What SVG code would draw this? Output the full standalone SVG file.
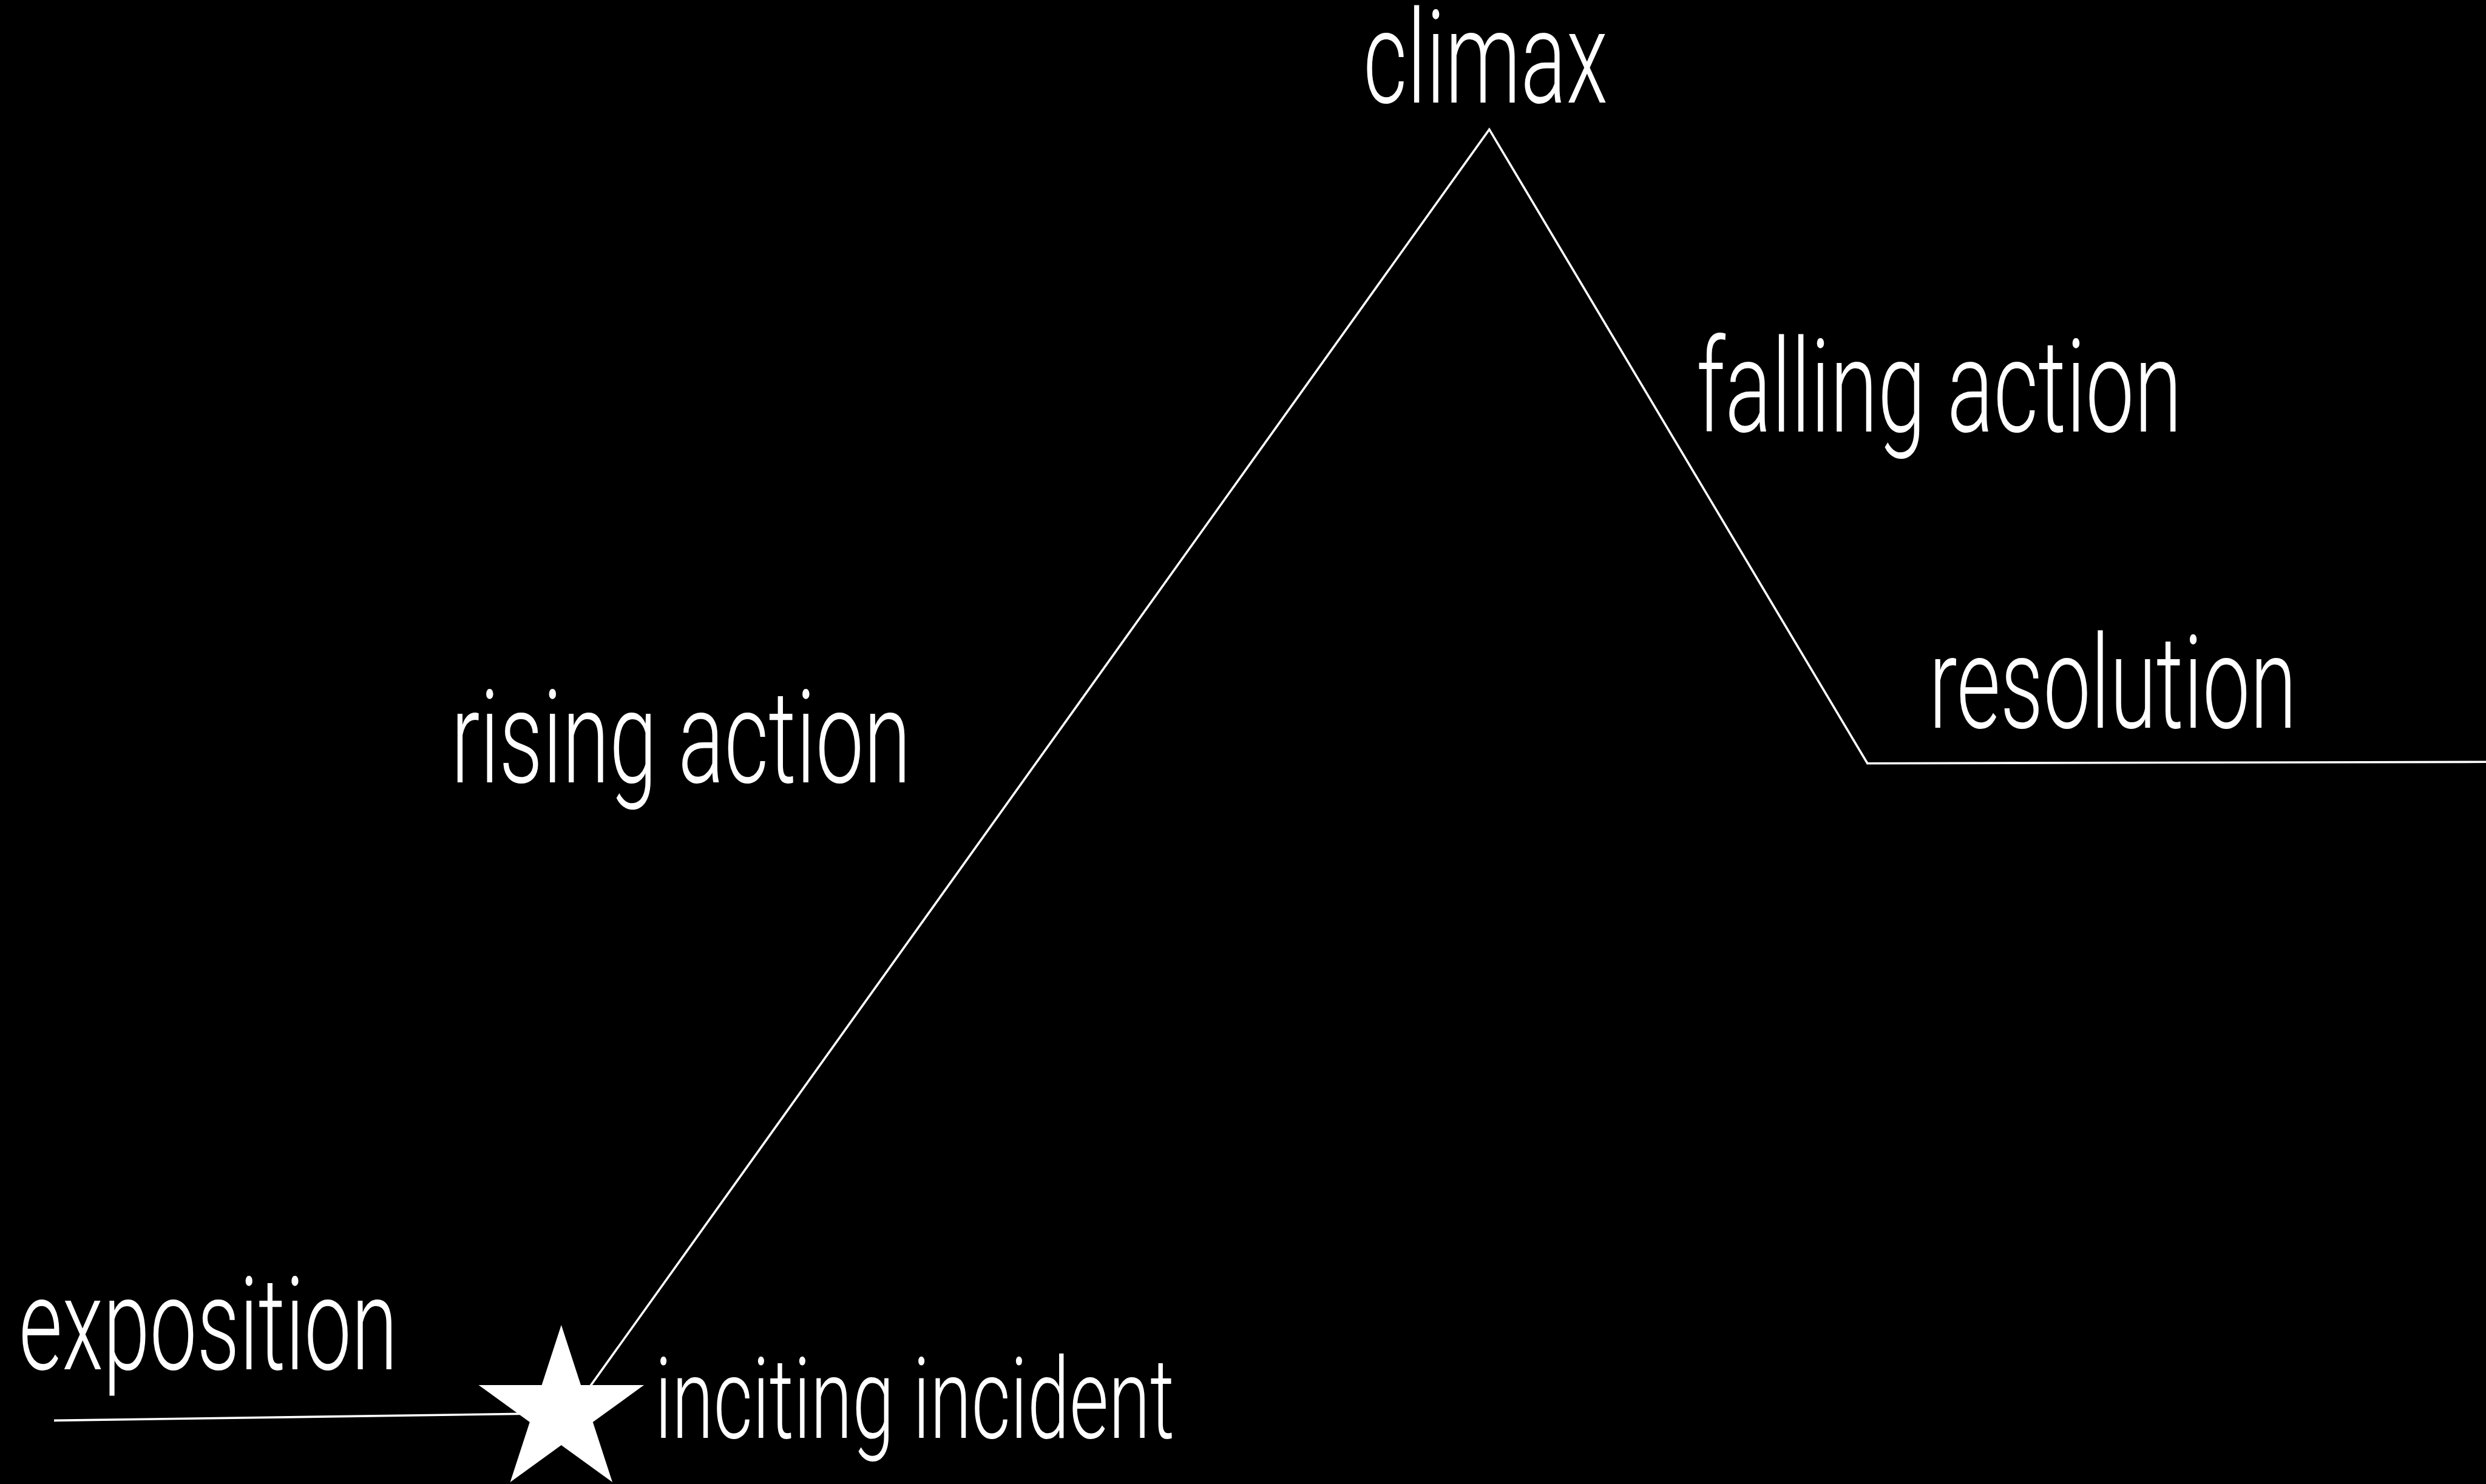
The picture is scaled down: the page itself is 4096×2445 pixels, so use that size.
<svg xmlns="http://www.w3.org/2000/svg" width="4096" height="2445" viewBox="0 0 4096 2445">
<style>
.lbl{font-family:Roboto,"Liberation Sans",sans-serif;font-weight:300;fill:#fff;font-size:213px}
.sm{font-size:185px}
.ln{fill:none;stroke:#fff;stroke-width:3.6;stroke-linejoin:miter}
</style>
<rect x="0" y="0" width="4096" height="2445" fill="#000"/>
<g id="connectors">
<path class="ln" d="M89,2340.4 L925.2,2328.4"/>
<path class="ln" d="M955.1,2308.1 L2453.8,213.2 L3076.8,1257.7 L4096,1255.3"/>
</g>
<g id="star">
<path fill="#fff" d="M924.8,2182.9 L957.0,2281.9 L1061.1,2281.9 L976.8,2343.1 L1009.0,2442.1 L924.8,2380.9 L840.6,2442.1 L872.8,2343.1 L788.5,2281.9 L892.6,2281.9 Z"/>
</g>
<g id="climax"><text class="lbl" x="2246" y="169.2" textLength="403" lengthAdjust="spacingAndGlyphs">climax</text></g>
<g id="falling-action"><text class="lbl" x="2795" y="711" textLength="800" lengthAdjust="spacingAndGlyphs">falling action</text></g>
<g id="resolution"><text class="lbl" x="3178" y="1199" textLength="606" lengthAdjust="spacingAndGlyphs">resolution</text></g>
<g id="rising-action"><text class="lbl" x="743" y="1289" textLength="758" lengthAdjust="spacingAndGlyphs">rising action</text></g>
<g id="exposition"><text class="lbl" x="31" y="2256.2" textLength="624" lengthAdjust="spacingAndGlyphs">exposition</text></g>
<g id="inciting-incident"><text class="lbl sm" x="1079" y="2368.7" textLength="856" lengthAdjust="spacingAndGlyphs">inciting incident</text></g>
</svg>
